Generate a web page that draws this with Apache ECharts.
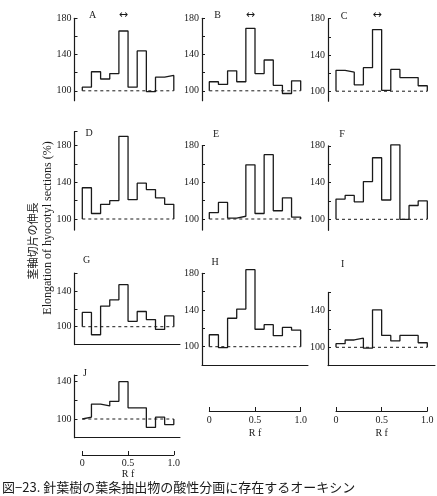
<!DOCTYPE html>
<html><head><meta charset="utf-8">
<script src="https://cdn.jsdelivr.net/npm/echarts@6/dist/echarts.min.js"></script>
<style>html,body{margin:0;padding:0;background:#fff}#c{width:437px;height:496px}</style>
</head><body><div id="c"></div>
<script>
// ---- data ----
const rfEdges = [0, 0.1, 0.2, 0.3, 0.4, 0.5, 0.6, 0.7, 0.8, 0.9, 1.0];
const panelNames = ['A','B','C','D','E','F','G','H','I','J'];
const valuesA = [104, 121, 113, 119, 166, 104, 144, 99, 115, 117];
const valuesB = [110, 107, 122, 110, 169, 119, 134, 106, 97, 111];
const valuesC = [123, 121, 107, 126, 168, 101, 124, 115, 115, 106];
const valuesD = [134, 106, 116, 120, 190, 121, 139, 132, 123, 116];
const valuesE = [107, 118, 101, 103, 159, 106, 170, 109, 123, 102];
const valuesF = [122, 126, 119, 141, 167, 121, 181, 100, 115, 120];
const valuesG = [116, 91, 123, 130, 147, 106, 117, 108, 97, 112];
const valuesH = [113, 99, 131, 141, 184, 119, 124, 112, 121, 118];
const valuesI = [104, 108, 110, 99, 141, 113, 107, 113, 113, 105];
const valuesJ = [102, 116, 114, 119, 140, 112, 112, 91, 102, 94];
const baseline = 100;
const yTicks = [100, 120, 140, 160, 180];
const yTickLabels = [100, 140, 180];
const rfTicks = [0, 0.5, 1.0];
const rfTickLabels = ['0', '0.5', '1.0'];
const yTitleJa = '茎軸切片の伸長';
const yTitleEn = 'Elongation of hyocotyl sections (%)';
const caption = '図−23. 針葉樹の葉条抽出物の酸性分画に存在するオーキシン';

// ---- layout ----
const cols = [
  {axisX: 74.5, x0: 82.3, x1: 173.8, lineEnd: 180},
  {axisX: 202, x0: 209.3, x1: 300.7, lineEnd: 308},
  {axisX: 328, x0: 336, x1: 427.3, lineEnd: 435}
];
const panels = [
  {v: valuesA, col: 0, p100: 90.8, k: 0.906, min: 89, max: 180, xLine: false, lx: 92.5, ly: 15.5},
  {v: valuesB, col: 1, p100: 90.8, k: 0.906, min: 89, max: 180, xLine: false, lx: 217.5, ly: 15},
  {v: valuesC, col: 2, p100: 91.2, k: 0.906, min: 89, max: 180, xLine: false, lx: 344, ly: 16},
  {v: valuesD, col: 0, p100: 219, k: 0.919, min: 88, max: 195, xLine: false, lx: 89, ly: 133.5},
  {v: valuesE, col: 1, p100: 219, k: 0.919, min: 88, max: 180, xLine: false, lx: 216, ly: 134.5},
  {v: valuesF, col: 2, p100: 219.3, k: 0.919, min: 88, max: 180, xLine: false, lx: 342, ly: 134.5},
  {v: valuesG, col: 0, p100: 326.7, k: 0.895, min: 80, max: 160, xLine: true, lx: 86.5, ly: 260},
  {v: valuesH, col: 1, p100: 346.7, k: 0.9175, min: 80, max: 180, xLine: true, lx: 215, ly: 262.5},
  {v: valuesI, col: 2, p100: 347.3, k: 0.915, min: 80, max: 160, xLine: true, lx: 342.7, ly: 264},
  {v: valuesJ, col: 0, p100: 419, k: 0.9325, min: 80, max: 147, xLine: true, lx: 85, ly: 373}
];
const arrowPanels = [0, 1, 2];
const rfBars = [
  {col: 1, y: 411, margin: 4, gap: 17},
  {col: 2, y: 411, margin: 4, gap: 17},
  {col: 0, y: 455, margin: 3, gap: 14}
];

const ink = '#1a1a1a';
const serif = '"Liberation Serif", "DejaVu Serif", serif';
const grid = [], xAxis = [], yAxis = [], series = [], graphic = [];

panels.forEach((p, i) => {
  const c = cols[p.col];
  const scale = c.x1 - c.x0;
  const xmin = (c.axisX - c.x0) / scale;
  const xmax = (c.lineEnd - c.x0) / scale;
  const top = p.p100 - (p.max - baseline) * p.k;
  const height = (p.max - p.min) * p.k;
  grid.push({left: c.axisX, top: top, width: c.lineEnd - c.axisX, height: height, containLabel: false});
  xAxis.push({
    gridIndex: i, type: 'value', min: xmin, max: xmax,
    axisLine: {show: p.xLine, onZero: false, lineStyle: {color: ink, width: 1}},
    axisTick: {show: false}, axisLabel: {show: false}, splitLine: {show: false}
  });
  const ticks = yTicks.filter(t => t >= p.min && t <= p.max);
  if (ticks.indexOf(p.max) < 0) ticks.push(p.max);
  yAxis.push({
    gridIndex: i, type: 'value', min: p.min, max: p.max,
    axisLine: {show: true, onZero: false, lineStyle: {color: ink, width: 1.2}},
    axisTick: {show: true, inside: true, length: 3, customValues: ticks, lineStyle: {color: ink, width: 1}},
    axisLabel: {show: true, customValues: yTickLabels.filter(t => t >= p.min && t <= p.max),
      fontFamily: serif, fontSize: 10, color: ink, margin: 3},
    splitLine: {show: false}
  });
  const pts = [[rfEdges[0], baseline]];
  p.v.forEach((val, b) => { pts.push([rfEdges[b], val]); pts.push([rfEdges[b + 1], val]); });
  pts.push([rfEdges[rfEdges.length - 1], baseline]);
  series.push({
    type: 'line', xAxisIndex: i, yAxisIndex: i, data: pts, symbol: 'none', silent: true, clip: false,
    lineStyle: {color: ink, width: 1.3}, animation: false
  });
  series.push({
    type: 'line', xAxisIndex: i, yAxisIndex: i, symbol: 'none', silent: true, animation: false, clip: false,
    data: [[rfEdges[0], baseline], [rfEdges[rfEdges.length - 1], baseline]],
    lineStyle: {color: ink, width: 1, type: [3, 3]}
  });
  graphic.push({type: 'text', x: p.lx, y: p.ly, style: {text: panelNames[i], font: '10px ' + serif,
    fill: ink, textAlign: 'center', textVerticalAlign: 'middle'}});
});

arrowPanels.forEach(i => {
  const c = cols[panels[i].col];
  const scale = c.x1 - c.x0;
  const cx = c.x0 + scale * (rfEdges[4] + rfEdges[5]) / 2;
  graphic.push({type: 'text', x: cx, y: 15, style: {text: '↔', font: '11px "DejaVu Sans"', fill: ink,
    textAlign: 'center', textVerticalAlign: 'middle'}});
});

rfBars.forEach(r => {
  const c = cols[r.col];
  const gi = grid.length;
  grid.push({left: c.x0, top: r.y - 8, width: c.x1 - c.x0, height: 8});
  xAxis.push({
    gridIndex: gi, type: 'value', min: rfTicks[0], max: rfTicks[rfTicks.length - 1], position: 'bottom',
    axisLine: {show: true, onZero: false, lineStyle: {color: ink, width: 1}},
    axisTick: {show: true, inside: true, length: 4, customValues: rfTicks, lineStyle: {color: ink}},
    axisLabel: {show: true, customValues: rfTicks, margin: r.margin, fontFamily: serif, fontSize: 10, color: ink,
      formatter: v => rfTickLabels[rfTicks.indexOf(v)]},
    splitLine: {show: false},
    name: 'R f', nameLocation: 'middle', nameGap: r.gap,
    nameTextStyle: {fontFamily: serif, fontSize: 10, color: ink}
  });
  yAxis.push({gridIndex: gi, type: 'value', show: false, min: 0, max: 1});
});

graphic.push({type: 'text', x: 33, y: 241, rotation: Math.PI / 2,
  style: {text: yTitleJa, font: '11px "Noto Sans CJK JP"', fill: ink, textAlign: 'center', textVerticalAlign: 'middle'}});
graphic.push({type: 'text', x: 48, y: 228, rotation: Math.PI / 2,
  style: {text: yTitleEn, font: '12px ' + serif, fill: ink, textAlign: 'center', textVerticalAlign: 'middle'}});
graphic.push({type: 'text', x: 2, y: 487,
  style: {text: caption, font: '13px "Noto Sans CJK JP"', fill: ink, textAlign: 'left', textVerticalAlign: 'middle'}});

const chart = echarts.init(document.getElementById('c'), null, {renderer: 'canvas'});
chart.setOption({backgroundColor: '#fff', animation: false, grid, xAxis, yAxis, series, graphic});
</script></body></html>
